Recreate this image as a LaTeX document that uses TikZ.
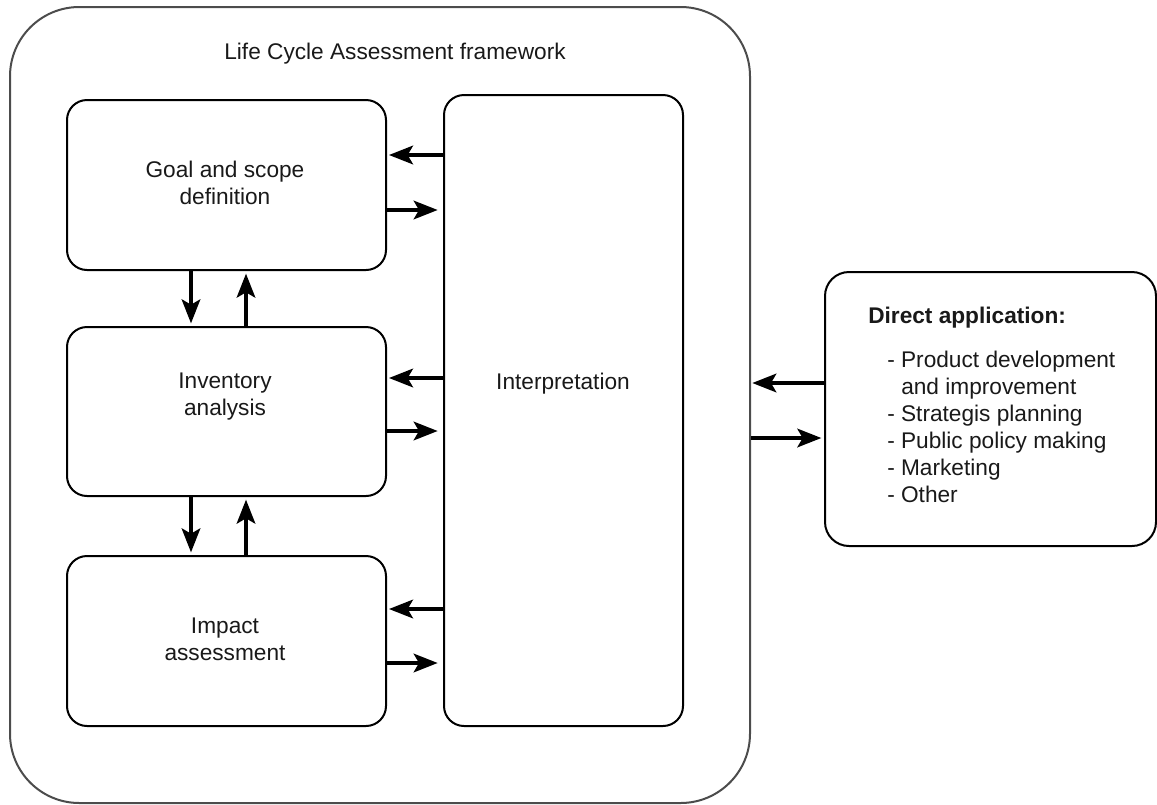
\documentclass[tikz,border=0pt]{standalone}
\usepackage{fontspec}
\setmainfont{Liberation Sans}
\usetikzlibrary{arrows.meta}
\begin{document}
\begin{tikzpicture}[x=0.75pt,y=-0.75pt,
  stagebox/.style={draw=black, line width=1.5pt, rounded corners=15pt,
    anchor=north west, inner sep=0pt},
  arr/.style={line width=2.4pt, arrows={-Stealth[length=18pt,width=14pt,inset=4pt]}},
  lbl/.style={font=\fontsize{17}{20.25}\selectfont, align=center, text=black!90, inner sep=0pt}]
\useasboundingbox (0,0) rectangle (1157,804);

% outer framework
\node[draw=black!70, line width=1.5pt, rounded corners=52pt, inner sep=0pt,
  minimum width=740*0.75pt, minimum height=796*0.75pt, anchor=north west] (frame) at (9,6) {};
\node[lbl] (title) at (395,54) {Life Cycle Assessment framework};

% phases
\node[stagebox, minimum width=319*0.75pt, minimum height=170*0.75pt] (goal) at (66,99) {};
\node[stagebox, minimum width=319*0.75pt, minimum height=169*0.75pt] (inv) at (66,326) {};
\node[stagebox, minimum width=319*0.75pt, minimum height=170*0.75pt] (imp) at (66,555) {};
\node[stagebox, minimum width=239*0.75pt, minimum height=631*0.75pt] (interp) at (443,94) {};
\node[stagebox, rounded corners=18pt, minimum width=331*0.75pt, minimum height=274*0.75pt] (app) at (824,271) {};

\node[lbl] (goaltxt) at (225,183) {Goal and scope\\definition};
\node[lbl] (invtxt) at (225,397) {Inventory\\analysis};
\node[lbl] (imptxt) at (225,639) {Impact\\assessment};
\node[lbl] (interptxt) at (563,384) {Interpretation};

\node[lbl, anchor=west, font=\fontsize{17}{20.25}\selectfont\bfseries] (apphead) at (868,318) {Direct application:};
\node[lbl, anchor=west, align=left] (applist) at (887,427)
  {- Product development\\\hspace*{10.5pt}and improvement\\- Strategis planning\\- Public policy making\\- Marketing\\- Other};

% phase <-> interpretation
\draw[arr, shorten >=1.5pt] (interp.west |- 0,155) -- (goal.east |- 0,155);
\draw[arr, shorten >=4pt] (goal.east |- 0,210) -- (interp.west |- 0,210);
\draw[arr, shorten >=1.5pt] (interp.west |- 0,378) -- (inv.east |- 0,378);
\draw[arr, shorten >=4pt] (inv.east |- 0,431) -- (interp.west |- 0,431);
\draw[arr, shorten >=1.5pt] (interp.west |- 0,609) -- (imp.east |- 0,609);
\draw[arr, shorten >=4pt] (imp.east |- 0,663) -- (interp.west |- 0,663);

% phase <-> phase
\draw[arr, shorten >=2pt] (191,0 |- goal.south) -- (191,0 |- inv.north);
\draw[arr, shorten >=2pt] (246,0 |- inv.north) -- (246,0 |- goal.south);
\draw[arr, shorten >=2pt] (191,0 |- inv.south) -- (191,0 |- imp.north);
\draw[arr, shorten >=2pt] (246,0 |- imp.north) -- (246,0 |- inv.south);

% framework <-> applications
\draw[arr, shorten >=1pt] (app.west |- 0,383) -- (frame.east |- 0,383);
\draw[arr, shorten >=2pt] (frame.east |- 0,438) -- (app.west |- 0,438);
\end{tikzpicture}
\end{document}
